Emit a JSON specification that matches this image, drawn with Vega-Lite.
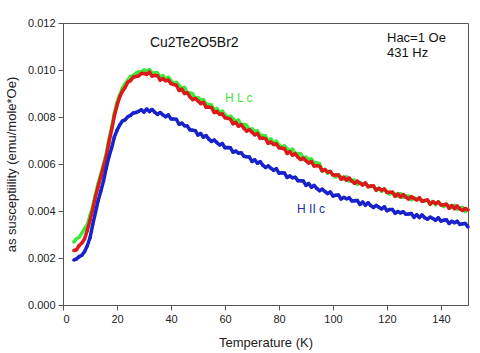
{
  "$schema": "https://vega.github.io/schema/vega-lite/v6.json",
  "width": 405,
  "height": 282,
  "autosize": {"type": "none"},
  "padding": {"left": 63, "top": 23, "right": 12, "bottom": 48},
  "background": "white",
  "config": {
    "view": {"stroke": "#555555", "strokeWidth": 1},
    "font": "Liberation Sans",
    "axis": {"grid": false, "domainColor": "#555555", "tickColor": "#555555", "tickSize": 5, "labelFontSize": 11, "labelColor": "#222222", "titleFontSize": 13, "titleFontWeight": "normal", "titleColor": "#222222", "labelFont": "Liberation Sans", "titleFont": "Liberation Sans"}
  },
  "datasets": {
    "d": [
      {"T":4,"g":0.00268,"r":0.00232,"b":0.00191},
      {"T":5,"g":0.00282,"r":0.00235,"b":0.00196},
      {"T":6,"g":0.00288,"r":0.00253,"b":0.00206},
      {"T":7,"g":0.00306,"r":0.00264,"b":0.00212},
      {"T":8,"g":0.00325,"r":0.00282,"b":0.00228},
      {"T":9,"g":0.00341,"r":0.00317,"b":0.00252},
      {"T":10,"g":0.00381,"r":0.0036,"b":0.00286},
      {"T":11,"g":0.0042,"r":0.00406,"b":0.00342},
      {"T":12,"g":0.0047,"r":0.00459,"b":0.00392},
      {"T":13,"g":0.00516,"r":0.00503,"b":0.00443},
      {"T":14,"g":0.00557,"r":0.00546,"b":0.00484},
      {"T":15,"g":0.00599,"r":0.00588,"b":0.00527},
      {"T":16,"g":0.00643,"r":0.00631,"b":0.00582},
      {"T":17,"g":0.00704,"r":0.00691,"b":0.0063},
      {"T":18,"g":0.00754,"r":0.00745,"b":0.00668},
      {"T":19,"g":0.00815,"r":0.00803,"b":0.00714},
      {"T":20,"g":0.00861,"r":0.00849,"b":0.00743},
      {"T":21,"g":0.00894,"r":0.00885,"b":0.00766},
      {"T":22,"g":0.00922,"r":0.0091,"b":0.00783},
      {"T":23,"g":0.00942,"r":0.00926,"b":0.00788},
      {"T":24,"g":0.00956,"r":0.00948,"b":0.00801},
      {"T":25,"g":0.00973,"r":0.00954,"b":0.00807},
      {"T":26,"g":0.00976,"r":0.00969,"b":0.00817},
      {"T":27,"g":0.00986,"r":0.00972,"b":0.00819},
      {"T":28,"g":0.00993,"r":0.00975,"b":0.00824},
      {"T":29,"g":0.00991,"r":0.00985,"b":0.00831},
      {"T":30,"g":0.01,"r":0.00985,"b":0.00821},
      {"T":31,"g":0.00996,"r":0.00981,"b":0.00834},
      {"T":32,"g":0.01002,"r":0.00991,"b":0.00823},
      {"T":33,"g":0.00988,"r":0.00974,"b":0.00832},
      {"T":34,"g":0.00988,"r":0.00977,"b":0.0082},
      {"T":35,"g":0.00987,"r":0.00976,"b":0.00811},
      {"T":36,"g":0.00968,"r":0.00957,"b":0.00819},
      {"T":37,"g":0.00976,"r":0.00963,"b":0.00809},
      {"T":38,"g":0.00961,"r":0.00954,"b":0.00801},
      {"T":39,"g":0.00969,"r":0.00957,"b":0.00809},
      {"T":40,"g":0.00955,"r":0.00942,"b":0.00792},
      {"T":41,"g":0.00942,"r":0.00938,"b":0.00792},
      {"T":42,"g":0.00947,"r":0.00935,"b":0.0079},
      {"T":43,"g":0.00934,"r":0.00913,"b":0.00769},
      {"T":44,"g":0.00922,"r":0.00918,"b":0.00774},
      {"T":45,"g":0.00926,"r":0.009,"b":0.00763},
      {"T":46,"g":0.00903,"r":0.00903,"b":0.00762},
      {"T":47,"g":0.00902,"r":0.00886,"b":0.00746},
      {"T":48,"g":0.00899,"r":0.00874,"b":0.00744},
      {"T":49,"g":0.00878,"r":0.00879,"b":0.00742},
      {"T":50,"g":0.00883,"r":0.00868,"b":0.00723},
      {"T":51,"g":0.00872,"r":0.00857,"b":0.0073},
      {"T":52,"g":0.00873,"r":0.00862,"b":0.00714},
      {"T":53,"g":0.00856,"r":0.00842,"b":0.00721},
      {"T":54,"g":0.00853,"r":0.00842,"b":0.00706},
      {"T":55,"g":0.00851,"r":0.0084,"b":0.00696},
      {"T":56,"g":0.0083,"r":0.00819,"b":0.00702},
      {"T":57,"g":0.00836,"r":0.00823,"b":0.00691},
      {"T":58,"g":0.00819,"r":0.00812,"b":0.00681},
      {"T":59,"g":0.00825,"r":0.00813,"b":0.00687},
      {"T":60,"g":0.0081,"r":0.00797,"b":0.00669},
      {"T":61,"g":0.00798,"r":0.00794,"b":0.0067},
      {"T":62,"g":0.00803,"r":0.00791,"b":0.00669},
      {"T":63,"g":0.00792,"r":0.00771,"b":0.0065},
      {"T":64,"g":0.00781,"r":0.00777,"b":0.00655},
      {"T":65,"g":0.00787,"r":0.00761,"b":0.00646},
      {"T":66,"g":0.00767,"r":0.00767,"b":0.00648},
      {"T":67,"g":0.00768,"r":0.00752,"b":0.00633},
      {"T":68,"g":0.00765,"r":0.0074,"b":0.00631},
      {"T":69,"g":0.00745,"r":0.00746,"b":0.0063},
      {"T":70,"g":0.0075,"r":0.00735,"b":0.00611},
      {"T":71,"g":0.00739,"r":0.00724,"b":0.00618},
      {"T":72,"g":0.00741,"r":0.0073,"b":0.00603},
      {"T":73,"g":0.00724,"r":0.0071,"b":0.0061},
      {"T":74,"g":0.00721,"r":0.0071,"b":0.00595},
      {"T":75,"g":0.00719,"r":0.00708,"b":0.00585},
      {"T":76,"g":0.00699,"r":0.00688,"b":0.00592},
      {"T":77,"g":0.00706,"r":0.00693,"b":0.00582},
      {"T":78,"g":0.0069,"r":0.00683,"b":0.00573},
      {"T":79,"g":0.00697,"r":0.00685,"b":0.0058},
      {"T":80,"g":0.00682,"r":0.00669,"b":0.00561},
      {"T":81,"g":0.00671,"r":0.00667,"b":0.00563},
      {"T":82,"g":0.00677,"r":0.00665,"b":0.00562},
      {"T":83,"g":0.00666,"r":0.00645,"b":0.00543},
      {"T":84,"g":0.00656,"r":0.00652,"b":0.00549},
      {"T":85,"g":0.00663,"r":0.00637,"b":0.00541},
      {"T":86,"g":0.00644,"r":0.00644,"b":0.00544},
      {"T":87,"g":0.00645,"r":0.00629,"b":0.00529},
      {"T":88,"g":0.00644,"r":0.00619,"b":0.00529},
      {"T":89,"g":0.00624,"r":0.00625,"b":0.00528},
      {"T":90,"g":0.00629,"r":0.00614,"b":0.00509},
      {"T":91,"g":0.00619,"r":0.00604,"b":0.00517},
      {"T":92,"g":0.00621,"r":0.0061,"b":0.00501},
      {"T":93,"g":0.00605,"r":0.00591,"b":0.00509},
      {"T":94,"g":0.00604,"r":0.00593,"b":0.00496},
      {"T":95,"g":0.00602,"r":0.00591,"b":0.00486},
      {"T":96,"g":0.0057,"r":0.00571,"b":0.00493},
      {"T":97,"g":0.00577,"r":0.00576,"b":0.00483},
      {"T":98,"g":0.00561,"r":0.00566,"b":0.00474},
      {"T":99,"g":0.00568,"r":0.00568,"b":0.00481},
      {"T":100,"g":0.00554,"r":0.00553,"b":0.00464},
      {"T":101,"g":0.00545,"r":0.00553,"b":0.00467},
      {"T":102,"g":0.00553,"r":0.00553,"b":0.00468},
      {"T":103,"g":0.00544,"r":0.00535,"b":0.00451},
      {"T":104,"g":0.00536,"r":0.00544,"b":0.00458},
      {"T":105,"g":0.00545,"r":0.00531,"b":0.00452},
      {"T":106,"g":0.00528,"r":0.0054,"b":0.00456},
      {"T":107,"g":0.00531,"r":0.00527,"b":0.00443},
      {"T":108,"g":0.00531,"r":0.00518,"b":0.00444},
      {"T":109,"g":0.00514,"r":0.00527,"b":0.00445},
      {"T":110,"g":0.00521,"r":0.00518,"b":0.00428},
      {"T":111,"g":0.00514,"r":0.00511,"b":0.00438},
      {"T":112,"g":0.00518,"r":0.00519,"b":0.00425},
      {"T":113,"g":0.00505,"r":0.00503,"b":0.00435},
      {"T":114,"g":0.00505,"r":0.00506,"b":0.00423},
      {"T":115,"g":0.00505,"r":0.00506,"b":0.00415},
      {"T":116,"g":0.00488,"r":0.00489,"b":0.00424},
      {"T":117,"g":0.00497,"r":0.00496,"b":0.00416},
      {"T":118,"g":0.00484,"r":0.00489,"b":0.00409},
      {"T":119,"g":0.00493,"r":0.00493,"b":0.00418},
      {"T":120,"g":0.0048,"r":0.00479,"b":0.00401},
      {"T":121,"g":0.00472,"r":0.0048,"b":0.00406},
      {"T":122,"g":0.0048,"r":0.0048,"b":0.00406},
      {"T":123,"g":0.00472,"r":0.00463,"b":0.0039},
      {"T":124,"g":0.00464,"r":0.00472,"b":0.00398},
      {"T":125,"g":0.00474,"r":0.0046,"b":0.00392},
      {"T":126,"g":0.00458,"r":0.0047,"b":0.00397},
      {"T":127,"g":0.00463,"r":0.00459,"b":0.00386},
      {"T":128,"g":0.00464,"r":0.00451,"b":0.00387},
      {"T":129,"g":0.00448,"r":0.00461,"b":0.00389},
      {"T":130,"g":0.00456,"r":0.00453,"b":0.00373},
      {"T":131,"g":0.0045,"r":0.00447,"b":0.00384},
      {"T":132,"g":0.00455,"r":0.00456,"b":0.00372},
      {"T":133,"g":0.00443,"r":0.00441,"b":0.00383},
      {"T":134,"g":0.00444,"r":0.00445,"b":0.00371},
      {"T":135,"g":0.00446,"r":0.00447,"b":0.00365},
      {"T":136,"g":0.00429,"r":0.0043,"b":0.00374},
      {"T":137,"g":0.0044,"r":0.00439,"b":0.00368},
      {"T":138,"g":0.00427,"r":0.00432,"b":0.00361},
      {"T":139,"g":0.00438,"r":0.00438,"b":0.00371},
      {"T":140,"g":0.00427,"r":0.00426,"b":0.00357},
      {"T":141,"g":0.00419,"r":0.00427,"b":0.00361},
      {"T":142,"g":0.00429,"r":0.00429,"b":0.00363},
      {"T":143,"g":0.00421,"r":0.00412,"b":0.00347},
      {"T":144,"g":0.00415,"r":0.00423,"b":0.00356},
      {"T":145,"g":0.00424,"r":0.0041,"b":0.0035},
      {"T":146,"g":0.00409,"r":0.00421,"b":0.00356},
      {"T":147,"g":0.00413,"r":0.00409,"b":0.00343},
      {"T":148,"g":0.00415,"r":0.00402,"b":0.00346},
      {"T":149,"g":0.00398,"r":0.00411,"b":0.00347},
      {"T":150,"g":0.00407,"r":0.00404,"b":0.00332}
    ]
  },
  "layer": [
    {
      "data": {"name": "d"},
      "mark": {"type": "line", "strokeWidth": 3.5, "color": "#3ee83a", "strokeJoin": "round"},
      "encoding": {
        "x": {"field": "T", "type": "quantitative", "scale": {"domain": [0, 150], "nice": false}, "axis": {"values": [0, 20, 40, 60, 80, 100, 120, 140], "title": "Temperature (K)", "titlePadding": 12, "labelPadding": 3}},
        "y": {"field": "g", "type": "quantitative", "scale": {"domain": [0, 0.012], "nice": false}, "axis": {"values": [0, 0.002, 0.004, 0.006, 0.008, 0.01, 0.012], "format": ".3f", "title": "as susceptiility (emu/mole*Oe)", "titlePadding": 9, "labelPadding": 3}}
      }
    },
    {
      "data": {"name": "d"},
      "mark": {"type": "point", "shape": "circle", "filled": true, "size": 12, "opacity": 1, "color": "#3ee83a"},
      "encoding": {
        "x": {"field": "T", "type": "quantitative"},
        "y": {"field": "g", "type": "quantitative"}
      }
    },
    {
      "data": {"name": "d"},
      "mark": {"type": "line", "strokeWidth": 3.5, "color": "#dd1a1a", "strokeJoin": "round"},
      "encoding": {
        "x": {"field": "T", "type": "quantitative"},
        "y": {"field": "r", "type": "quantitative"}
      }
    },
    {
      "data": {"name": "d"},
      "mark": {"type": "point", "shape": "circle", "filled": true, "size": 12, "opacity": 1, "color": "#dd1a1a"},
      "encoding": {
        "x": {"field": "T", "type": "quantitative"},
        "y": {"field": "r", "type": "quantitative"}
      }
    },
    {
      "data": {"name": "d"},
      "mark": {"type": "line", "strokeWidth": 3.5, "color": "#1a22cc", "strokeJoin": "round"},
      "encoding": {
        "x": {"field": "T", "type": "quantitative"},
        "y": {"field": "b", "type": "quantitative"}
      }
    },
    {
      "data": {"name": "d"},
      "mark": {"type": "point", "shape": "circle", "filled": true, "size": 12, "opacity": 1, "color": "#1a22cc"},
      "encoding": {
        "x": {"field": "T", "type": "quantitative"},
        "y": {"field": "b", "type": "quantitative"}
      }
    },
    {
      "data": {"values": [
        {"x": 32.2, "y": 0.01115, "label": "Cu2Te2O5Br2", "fs": 14},
        {"x": 120, "y": 0.01136, "label": "Hac=1 Oe", "fs": 13},
        {"x": 120, "y": 0.01072, "label": "431 Hz", "fs": 13}
      ]},
      "mark": {"type": "text", "align": "left", "baseline": "middle", "color": "#111111", "font": "Liberation Sans"},
      "encoding": {
        "x": {"field": "x", "type": "quantitative"},
        "y": {"field": "y", "type": "quantitative"},
        "text": {"field": "label"},
        "size": {"field": "fs", "type": "quantitative", "scale": null}
      }
    },
    {
      "data": {"values": [
        {"x": 60, "y": 0.0088, "label": "H L c"}
      ]},
      "mark": {"type": "text", "align": "left", "baseline": "middle", "color": "#3ee83a", "fontSize": 12, "font": "Liberation Sans"},
      "encoding": {
        "x": {"field": "x", "type": "quantitative"},
        "y": {"field": "y", "type": "quantitative"},
        "text": {"field": "label"}
      }
    },
    {
      "data": {"values": [
        {"x": 86.7, "y": 0.0041, "label": "H II c"}
      ]},
      "mark": {"type": "text", "align": "left", "baseline": "middle", "color": "#2230b0", "fontSize": 12, "font": "Liberation Sans"},
      "encoding": {
        "x": {"field": "x", "type": "quantitative"},
        "y": {"field": "y", "type": "quantitative"},
        "text": {"field": "label"}
      }
    }
  ]
}
